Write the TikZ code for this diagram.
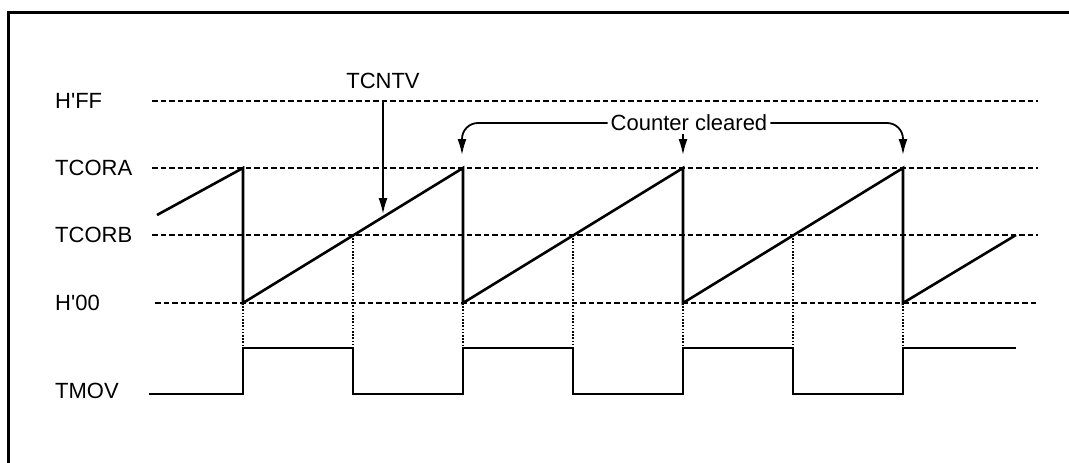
\documentclass[tikz,border=0pt]{standalone}
\usepackage{fontspec}
\setmainfont{Liberation Sans}[Ligatures=TeXOff]
\usetikzlibrary{arrows.meta}
\begin{document}
\begin{tikzpicture}[x=1pt,y=-1pt,
  lbl/.style={anchor=west,inner sep=0pt,font=\fontsize{22}{26}\selectfont},
  refline/.style={line width=2.2pt,dash pattern=on 5.5pt off 3pt},
  proj/.style={line width=1.6pt,dash pattern=on 1.6pt off 1.6pt},
  wave/.style={line width=2.6pt,line join=miter},
  sig/.style={line width=2.2pt},
  arr/.style={line width=1.8pt,-{Latex[length=16pt,width=9pt]}},
  frame/.style={line width=3pt}]
\useasboundingbox (0,0) rectangle (1069,463);
% frame (top and left edges)
\draw[frame] (8,463) -- (8,12) -- (1069,12);
% level labels
\node[lbl] (lff) at (55,101) {H'FF};
\node[lbl] (lca) at (55,168) {TCORA};
\node[lbl] (lcb) at (55,235) {TCORB};
\node[lbl] (l00) at (55,303) {H'00};
\node[lbl] (lmv) at (55,391) {TMOV};
% reference dashed lines
\draw[refline] (152,101) -- (1038,101);
\draw[refline] (152,168) -- (1038,168);
\draw[refline] (152,235) -- (1038,235);
\draw[refline] (155,303) -- (1038,303);
% key points
\coordinate (s0) at (157,215);
\foreach \i/\x in {1/243,2/463,3/683,4/903}{
  \coordinate (t\i) at (\x,168);
  \coordinate (b\i) at (\x,303);
  \coordinate (h\i) at (\x,348);
}
\foreach \i/\x in {1/353,2/573,3/793,4/1016}{
  \coordinate (c\i) at (\x,235);
  \coordinate (m\i) at (\x,348);
}
% projection dotted lines
\foreach \i in {1,2,3,4}{
  \draw[proj] (b\i) -- (h\i);
}
\foreach \i in {1,2,3}{
  \draw[proj] (c\i) -- (m\i);
}
% counter sawtooth
\draw[wave] (s0) -- (t1) -- (b1) -- (t2) -- (b2) -- (t3) -- (b3) -- (t4) -- (b4) -- (c4);
% TMOV waveform
\draw[sig] (149,394) -- (243,394) -- (243,348) -- (353,348) -- (353,394) -- (463,394)
  -- (463,348) -- (573,348) -- (573,394) -- (683,394) -- (683,348) -- (793,348)
  -- (793,394) -- (903,394) -- (903,348) -- (1016,348);
% TCNTV label and arrow
\node[lbl,anchor=center] (tv) at (383,81) {TCNTV};
\coordinate (tvs) at (383,101);
\coordinate (tve) at (383,214);
\draw[arr] (tvs) -- (tve);
% Counter cleared
\node[lbl,anchor=center,inner sep=3pt] (cc) at (689,123) {Counter cleared};
\coordinate (a2) at (462,155);
\coordinate (a3) at (683,155);
\coordinate (a4) at (903,155);
\draw[arr,rounded corners=16pt] (cc.west) -| (a2);
\draw[arr,rounded corners=16pt] (cc.east) -| (a4);
\draw[arr] (cc.south -| a3) -- (a3);
\end{tikzpicture}
\end{document}
